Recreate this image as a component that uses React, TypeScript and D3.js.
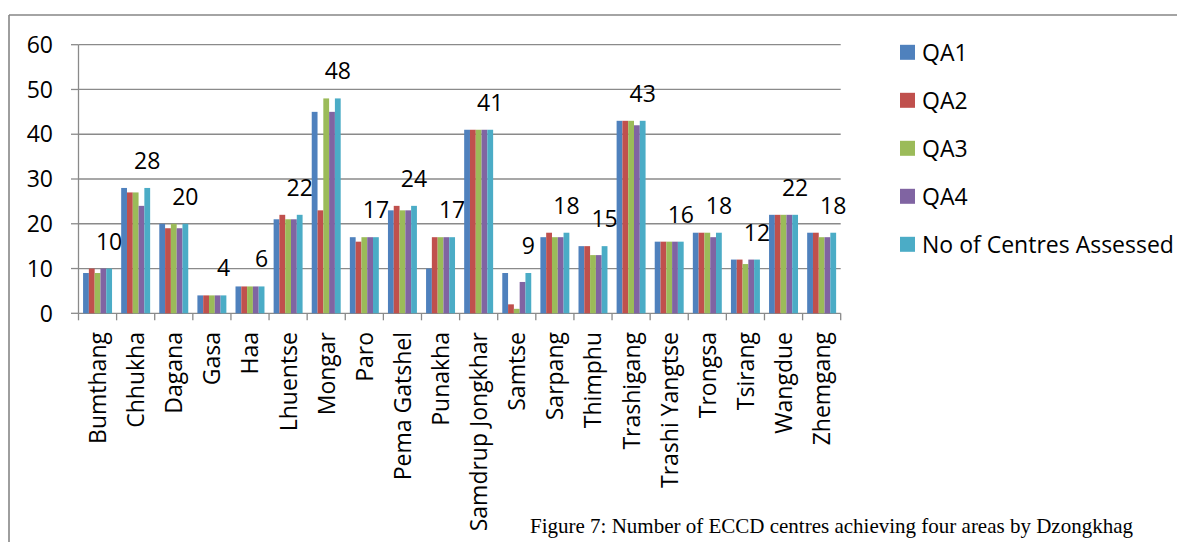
import React from "react";
import * as d3 from "d3";

// Dzongkhags (districts) on the category axis
const categories = [
  "Bumthang", "Chhukha", "Dagana", "Gasa", "Haa", "Lhuentse", "Mongar", "Paro",
  "Pema Gatshel", "Punakha", "Samdrup Jongkhar", "Samtse", "Sarpang", "Thimphu",
  "Trashigang", "Trashi Yangtse", "Trongsa", "Tsirang", "Wangdue", "Zhemgang",
];

// Number of centres achieving each quality area
const qa1 = [9, 28, 20, 4, 6, 21, 45, 17, 23, 10, 41, 9, 17, 15, 43, 16, 18, 12, 22, 18];
const qa2 = [10, 27, 19, 4, 6, 22, 23, 16, 24, 17, 41, 2, 18, 15, 43, 16, 18, 12, 22, 18];
const qa3 = [9, 27, 20, 4, 6, 21, 48, 17, 23, 17, 41, 1, 17, 13, 43, 16, 18, 11, 22, 17];
const qa4 = [10, 24, 19, 4, 6, 21, 45, 17, 23, 17, 41, 7, 17, 13, 42, 16, 17, 12, 22, 17];
const assessed = [10, 28, 20, 4, 6, 22, 48, 17, 24, 17, 41, 9, 18, 15, 43, 16, 18, 12, 22, 18];

const seriesNames = ["QA1", "QA2", "QA3", "QA4", "No of Centres Assessed"];
const seriesColors = ["#4F81BD", "#C0504D", "#9BBB59", "#8064A2", "#4BACC6"];
const seriesValues = [qa1, qa2, qa3, qa4, assessed];

const yTicks = [0, 10, 20, 30, 40, 50, 60];

const caption = "Figure 7: Number of ECCD centres achieving four areas by Dzongkhag";

const W = 1177;
const H = 542;
const FONT = "'Open Sans', 'Noto Sans', sans-serif";
const FS = 23;

export default function App() {
  const left = 78.5;
  const right = 840.7;
  const top = 44.7;
  const bottom = 313.3;

  const x = d3
    .scaleBand<string>()
    .domain(categories)
    .range([left, right])
    .paddingInner(0.24)
    .paddingOuter(0.12);
  const step = x.step();
  const xs = d3
    .scaleBand<string>()
    .domain(seriesNames)
    .range([0, x.bandwidth()]);
  const y = d3.scaleLinear().domain([0, 60]).range([bottom, top]);

  const gridColor = "#8a8a8a";

  return (
    <div style={{ position: "fixed", left: 0, top: 0, width: W, height: H, background: "#fff" }}>
      <svg width={W} height={H} style={{ display: "block" }}>
        {/* outer frame */}
        <line x1={9} x2={W} y1={15} y2={15} stroke="#868686" strokeWidth={1.6} />
        <line x1={9} x2={9} y1={15} y2={H} stroke="#868686" strokeWidth={1.6} />

        {/* gridlines */}
        {yTicks.map((t) => (
          <line key={"g" + t} x1={left} x2={right} y1={y(t)} y2={y(t)} stroke={gridColor} strokeWidth={1.3} />
        ))}

        {/* y axis */}
        <line x1={left} x2={left} y1={top} y2={bottom} stroke={gridColor} strokeWidth={1.3} />
        {yTicks.map((t) => (
          <g key={"yt" + t}>
            <line x1={left - 7.5} x2={left} y1={y(t)} y2={y(t)} stroke={gridColor} strokeWidth={1.3} />
            <text
              x={53}
              y={y(t) + 8.2}
              textAnchor="end"
              fontFamily={FONT}
              fontSize={FS}
              fill="#000"
            >
              {t}
            </text>
          </g>
        ))}

        {/* category ticks */}
        {d3.range(categories.length + 1).map((i) => (
          <line
            key={"xt" + i}
            x1={left + i * step}
            x2={left + i * step}
            y1={bottom}
            y2={bottom + 7}
            stroke={gridColor}
            strokeWidth={1.3}
          />
        ))}

        {/* bars */}
        {seriesValues.map((vals, si) => (
          <g key={"s" + si} fill={seriesColors[si]}>
            {categories.map((c, ci) => (
              <rect
                key={c}
                x={(x(c) as number) + (xs(seriesNames[si]) as number)}
                y={y(vals[ci])}
                width={xs.bandwidth()}
                height={bottom - y(vals[ci])}
              />
            ))}
          </g>
        ))}

        {/* value labels above the assessed-centres bars */}
        {categories.map((c, ci) => (
          <text
            key={"v" + c}
            x={(x(c) as number) + (xs(seriesNames[4]) as number) + xs.bandwidth() / 2}
            y={y(assessed[ci]) - 19}
            textAnchor="middle"
            fontFamily={FONT}
            fontSize={FS}
            fill="#000"
          >
            {assessed[ci]}
          </text>
        ))}

        {/* category labels */}
        {categories.map((c) => {
          const cx = (x(c) as number) + x.bandwidth() / 2;
          return (
            <text
              key={"l" + c}
              transform={`translate(${cx + 8.5},${332}) rotate(-90)`}
              textAnchor="end"
              fontFamily={FONT}
              fontSize={FS}
              fill="#000"
            >
              {c}
            </text>
          );
        })}

        {/* legend */}
        {seriesNames.map((n, i) => {
          const cy = 52.3 + i * 48;
          return (
            <g key={"lg" + n}>
              <rect x={900} y={cy - 7.5} width={15} height={15} fill={seriesColors[i]} />
              <text x={922} y={cy + 8.2} fontFamily={FONT} fontSize={FS} fill="#000">
                {n}
              </text>
            </g>
          );
        })}

        {/* caption */}
        <text
          x={530}
          y={532.5}
          fontFamily="'Liberation Serif', 'Times New Roman', serif"
          fontSize={21}
          fill="#000"
        >
          {caption}
        </text>
      </svg>
    </div>
  );
}
